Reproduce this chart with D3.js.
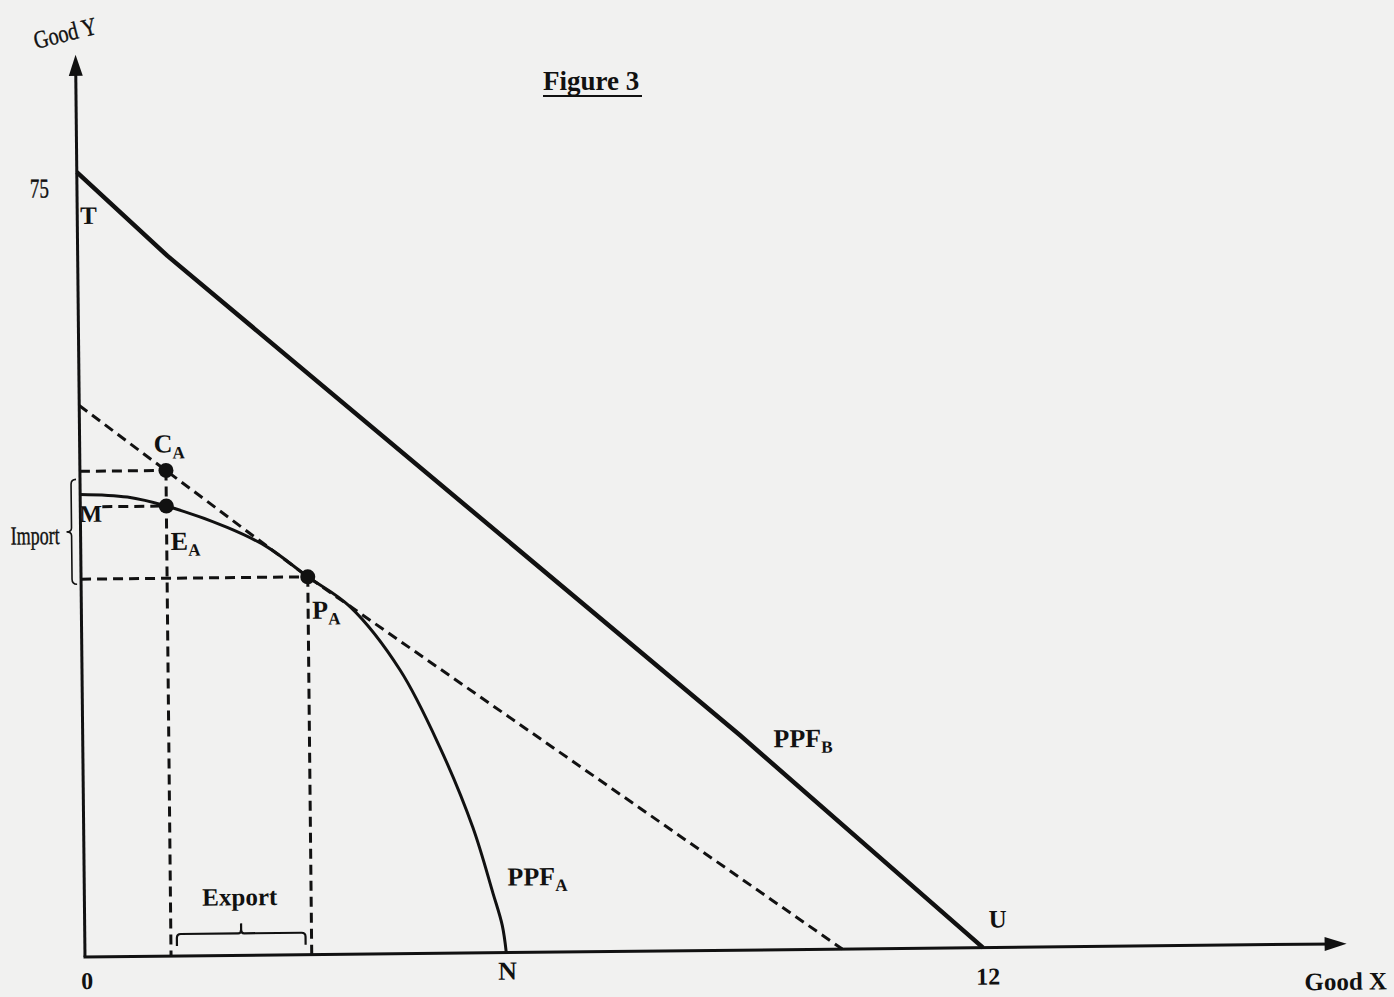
<!DOCTYPE html>
<html>
<head>
<meta charset="utf-8">
<script src="https://cdn.jsdelivr.net/npm/d3@7"></script>
<style>
  html, body { margin: 0; padding: 0; background: #f1f1f0; }
  svg { display: block; }
  text { font-family: "Liberation Serif", "Times New Roman", Times, serif; fill: #111; }
</style>
</head>
<body>
<svg id="chart" width="1394" height="997"></svg>
<script>
// ---------------- data ----------------
const ppfA = [[0, 44.2], [0.63, 43.9], [1.15, 43.0], [1.96, 40.9], [2.49, 39.0], [3.03, 36.1],
              [3.59, 33.2], [4.25, 27.1], [4.77, 19.7], [5.20, 12.0], [5.46, 5.7], [5.58, 2.6], [5.63, 0]];
const ppfB = [[0, 75], [1.2, 66.9], [8.78, 20.55], [12, 0]];
const tradeLine = [[0, 52.7], [3.03, 36.1], [10.12, 0]];
const points = [
  { name: "C", sub: "A", x: 1.15, y: 46.4 },
  { name: "E", sub: "A", x: 1.15, y: 43.0 },
  { name: "P", sub: "A", x: 3.03, y: 36.1 }
];
const xTickLabels = [{ v: 0, label: "0" }, { v: 12, label: "12" }];
const yTickLabels = [{ v: 75, label: "75" }];
const xAxisEnd = 16.86, yAxisEnd = 86.2;
const nIntercept = 5.63;

// ---------------- scales ----------------
const svg = d3.select("#chart");
svg.append("rect").attr("width", 1394).attr("height", 997).attr("fill", "#f1f1f0");

const x = d3.scaleLinear().domain([0, 12]).range([0, 898]);
const y = d3.scaleLinear().domain([0, 75]).range([0, -785]);

const g = svg.append("g").attr("transform", "translate(85,957) rotate(-0.6)");
const line = d3.line().x(d => x(d[0])).y(d => y(d[1]));

// axes
g.append("line").attr("x1", 0).attr("y1", 0).attr("x2", 0).attr("y2", y(yAxisEnd) + 10)
  .attr("stroke", "#111").attr("stroke-width", 3);
g.append("line").attr("x1", -1.5).attr("y1", 0).attr("x2", x(xAxisEnd) - 10).attr("y2", 0)
  .attr("stroke", "#111").attr("stroke-width", 3);
g.append("path")
  .attr("d", `M0,${y(yAxisEnd)} L7,${y(yAxisEnd) + 21} L-7,${y(yAxisEnd) + 21} Z`).attr("fill", "#111");
g.append("path")
  .attr("d", `M${x(xAxisEnd)},0 L${x(xAxisEnd) - 22},-7 L${x(xAxisEnd) - 22},7 Z`).attr("fill", "#111");

// PPF_B
g.append("path").datum(ppfB).attr("d", line)
  .attr("fill", "none").attr("stroke", "#111").attr("stroke-width", 4.5).attr("stroke-linejoin", "round");

// trade line (dashed)
g.append("path").datum(tradeLine).attr("d", line)
  .attr("fill", "none").attr("stroke", "#111").attr("stroke-width", 3).attr("stroke-dasharray", "10,6");

// PPF_A
g.append("path").datum(ppfA)
  .attr("d", d3.line().x(d => x(d[0])).y(d => y(d[1])).curve(d3.curveCatmullRom.alpha(0.5)))
  .attr("fill", "none").attr("stroke", "#111").attr("stroke-width", 3);

const C = points[0], E = points[1], P = points[2];
const dashed = (x1, y1, x2, y2) => g.append("line")
  .attr("x1", x1).attr("y1", y1).attr("x2", x2).attr("y2", y2)
  .attr("stroke", "#111").attr("stroke-width", 3).attr("stroke-dasharray", "10,6");

// guide lines
dashed(0, y(C.y), x(C.x), y(C.y));
dashed(22, y(E.y), x(E.x), y(E.y));
dashed(0, y(P.y), x(P.x), y(P.y));
dashed(x(C.x), y(C.y), x(C.x), 0);
dashed(x(P.x), y(P.y), x(P.x), 0);

// dots
g.selectAll("circle.pt").data(points).join("circle")
  .attr("class", "pt").attr("cx", d => x(d.x)).attr("cy", d => y(d.y)).attr("r", 7.5).attr("fill", "#111");

// import brace
{
  const yt = y(C.y) + 8, yb = y(P.y) + 5, ym = (yt + yb) / 2, bx = -9;
  g.append("path")
    .attr("d", `M${bx + 5},${yt} Q${bx},${yt} ${bx},${yt + 5} L${bx},${ym - 4} Q${bx},${ym} ${bx - 5},${ym}
                Q${bx},${ym} ${bx},${ym + 4} L${bx},${yb - 5} Q${bx},${yb} ${bx + 5},${yb}`)
    .attr("fill", "none").attr("stroke", "#111").attr("stroke-width", 1.6);
  g.append("text").attr("x", bx - 12).attr("y", ym + 12).attr("text-anchor", "end")
    .attr("font-size", 26).attr("stroke", "#111").attr("stroke-width", 0.4)
    .attr("textLength", 49).attr("lengthAdjust", "spacingAndGlyphs").text("Import");
}

// export brace
{
  const xl = x(C.x) + 6, xr = x(P.x) - 6, xm = (xl + xr) / 2;
  g.append("path")
    .attr("d", `M${xl},-10 L${xl},-18 Q${xl},-22 ${xl + 4},-22 L${xm - 3},-22 Q${xm},-22 ${xm},-26 L${xm},-32
                M${xm},-26 Q${xm},-22 ${xm + 3},-22 L${xr - 4},-22 Q${xr},-22 ${xr},-18 L${xr},-10`)
    .attr("fill", "none").attr("stroke", "#111").attr("stroke-width", 2.2);
  g.append("text").attr("x", xm - 1).attr("y", -50).attr("text-anchor", "middle")
    .attr("font-size", 25).attr("font-weight", "bold").text("Export");
}

// labels with subscripts
function subLabel(px, py, main, sub, size, weight) {
  const t = g.append("text").attr("x", px).attr("y", py).attr("font-size", size).attr("font-weight", weight || "normal");
  t.append("tspan").text(main);
  t.append("tspan").attr("dy", 6).attr("font-size", size * 0.66).attr("font-weight", "bold").text(sub);
  return t;
}
subLabel(x(C.x) - 12, y(C.y) - 18, C.name, C.sub, 26, "bold");
subLabel(x(E.x) + 4, y(E.y) + 44, E.name, E.sub, 26, "bold");
subLabel(x(P.x) + 4, y(P.y) + 42, P.name, P.sub, 26, "bold");
subLabel(x(nIntercept) + 2, -67, "PPF", "A", 26, "bold");
subLabel(x(9.23), y(18.2) - 12, "PPF", "B", 26, "bold");

g.append("text").attr("x", -1).attr("y", y(E.y) + 15).attr("font-size", 24).attr("font-weight", "bold").text("M");
g.append("text").attr("x", 3).attr("y", y(75) + 52).attr("font-size", 25).attr("font-weight", "bold").text("T");
g.append("text").attr("x", x(12) + 15).attr("y", -20).attr("text-anchor", "middle")
  .attr("font-size", 25).attr("font-weight", "bold").text("U");
g.append("text").attr("x", x(nIntercept) + 1).attr("y", 27).attr("text-anchor", "middle")
  .attr("font-size", 26).attr("font-weight", "bold").text("N");

// ticks
g.selectAll("text.xt").data(xTickLabels).join("text").attr("class", "xt")
  .attr("x", d => x(d.v) + (d.v === 0 ? 2 : 5)).attr("y", d => d.v === 0 ? 32 : 37).attr("text-anchor", "middle")
  .attr("font-size", 24).attr("font-weight", "bold").text(d => d.label);
g.selectAll("text.yt").data(yTickLabels).join("text").attr("class", "yt")
  .attr("x", -28).attr("y", d => y(d.v) + 25).attr("text-anchor", "end")
  .attr("font-size", 27).attr("stroke", "#111").attr("stroke-width", 0.4)
  .attr("textLength", 19).attr("lengthAdjust", "spacingAndGlyphs").text(d => d.label);

// axis titles
g.append("text").attr("x", x(xAxisEnd) + 40).attr("y", 46).attr("text-anchor", "end")
  .attr("font-size", 25).attr("font-weight", "bold").text("Good X");
svg.append("text").attr("transform", "translate(36,49) rotate(-14)")
  .attr("font-size", 25).attr("stroke", "#111").attr("stroke-width", 0.4)
  .attr("textLength", 64).attr("lengthAdjust", "spacingAndGlyphs").text("Good Y");

// title
svg.append("text").attr("x", 543).attr("y", 90).attr("font-size", 27).attr("font-weight", "bold").text("Figure 3");
svg.append("line").attr("x1", 543).attr("x2", 642).attr("y1", 96).attr("y2", 96)
  .attr("stroke", "#111").attr("stroke-width", 2);
</script>
</body>
</html>
